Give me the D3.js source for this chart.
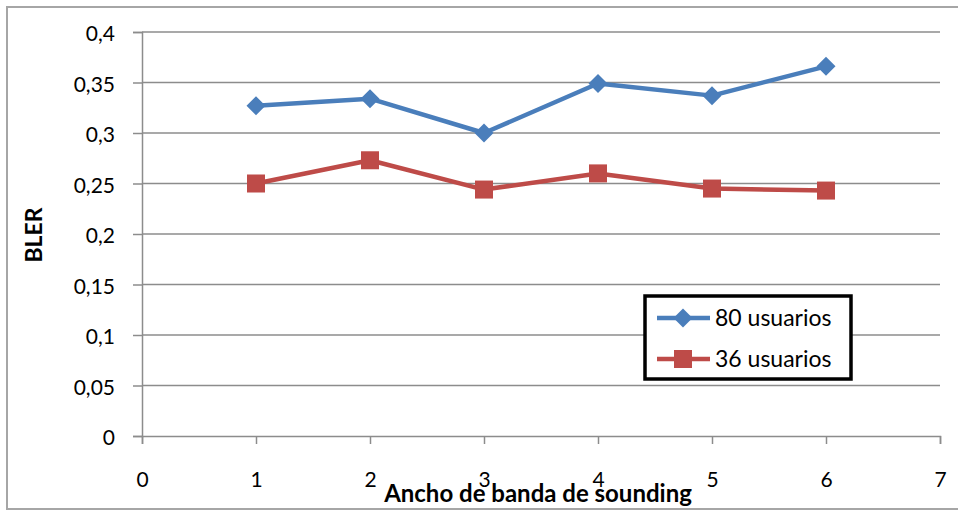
<!DOCTYPE html>
<html><head><meta charset="utf-8">
<script src="https://cdn.jsdelivr.net/npm/d3@7"></script>
<style>body{margin:0;background:#fff}svg{display:block}</style>
</head><body>
<script>
const xValues = [1, 2, 3, 4, 5, 6];
const series80 = [0.327, 0.334, 0.300, 0.349, 0.337, 0.366];
const series36 = [0.250, 0.273, 0.244, 0.260, 0.245, 0.243];
const seriesNames = ["80 usuarios", "36 usuarios"];
const xTicks = [0, 1, 2, 3, 4, 5, 6, 7];
const yTicks = [0, 0.05, 0.1, 0.15, 0.2, 0.25, 0.3, 0.35, 0.4];

const W = 958, H = 511;
const font = "Lato, 'Open Sans', sans-serif";
const svg = d3.select("body").append("svg").attr("width", W).attr("height", H);

svg.append("rect").attr("x", 7).attr("y", 7).attr("width", 980).attr("height", 502)
  .attr("fill", "none").attr("stroke", "#a6a6a6").attr("stroke-width", 2);

const x = d3.scaleLinear().domain([0, 7]).range([142, 940]);
const y = d3.scaleLinear().domain([0, 0.4]).range([436, 32]);
const fmt = d => d3.format("")(d).replace(".", ",");

// gridlines
svg.append("g").selectAll("line").data(yTicks.filter(d => d > 0)).join("line")
  .attr("x1", x(0)).attr("x2", x(7)).attr("y1", d => y(d)).attr("y2", d => y(d))
  .attr("stroke", "#8c8c8c").attr("stroke-width", 1.5);

// y axis
const yAx = svg.append("g").attr("transform", `translate(${x(0)},0)`)
  .call(d3.axisLeft(y).tickValues(yTicks).tickFormat(fmt).tickSize(9).tickPadding(18));
// x axis
const xAx = svg.append("g").attr("transform", `translate(0,${y(0)})`)
  .call(d3.axisBottom(x).tickValues(xTicks).tickFormat(d3.format("d")).tickSize(8));
[yAx, xAx].forEach(a => {
  a.select(".domain").attr("stroke", "#8c8c8c").attr("stroke-width", 1.5);
  a.selectAll(".tick line").attr("stroke", "#8c8c8c").attr("stroke-width", 1.5);
  a.selectAll("text").attr("fill", "#000").style("font-family", font).style("font-size", "21px");
});
xAx.selectAll("text").attr("y", 51).attr("dy", 0);
yAx.selectAll("text").attr("x", -27).attr("dy", "0.42em");

const line = d3.line().x((d, i) => x(xValues[i])).y(d => y(d));
const blue = "#4a7ebb", red = "#be4b48";

svg.append("path").datum(series80).attr("d", line).attr("fill", "none")
  .attr("stroke", blue).attr("stroke-width", 4.5).attr("stroke-linejoin", "round");
svg.append("path").datum(series36).attr("d", line).attr("fill", "none")
  .attr("stroke", red).attr("stroke-width", 4.5).attr("stroke-linejoin", "round");

const diamond = (cx, cy, r) => `M${cx},${cy - r}L${cx + r},${cy}L${cx},${cy + r}L${cx - r},${cy}Z`;
svg.append("g").selectAll("path").data(series80).join("path")
  .attr("d", (d, i) => diamond(x(xValues[i]), y(d), 9.5)).attr("fill", blue);
svg.append("g").selectAll("rect").data(series36).join("rect")
  .attr("x", (d, i) => x(xValues[i]) - 9).attr("y", d => y(d) - 9)
  .attr("width", 18).attr("height", 18).attr("fill", red);

// axis titles
svg.append("text").attr("x", 538).attr("y", 502).attr("text-anchor", "middle")
  .style("font-family", font).style("font-weight", "bold").style("font-size", "24px")
  .text("Ancho de banda de sounding");
svg.append("text").attr("transform", "translate(42,235) rotate(-90)").attr("text-anchor", "middle")
  .style("font-family", font).style("font-weight", "bold").style("font-size", "23px")
  .text("BLER");

// legend
const lg = svg.append("g");
lg.append("rect").attr("x", 645).attr("y", 296).attr("width", 206).attr("height", 83)
  .attr("fill", "#fff").attr("stroke", "#000").attr("stroke-width", 3.5);
const rows = [{ name: seriesNames[0], c: blue, yy: 318, m: "d" }, { name: seriesNames[1], c: red, yy: 359, m: "s" }];
rows.forEach(r => {
  lg.append("line").attr("x1", 657).attr("x2", 710).attr("y1", r.yy).attr("y2", r.yy)
    .attr("stroke", r.c).attr("stroke-width", 4.5);
  if (r.m === "d") lg.append("path").attr("d", diamond(683, r.yy, 9.5)).attr("fill", r.c);
  else lg.append("rect").attr("x", 674).attr("y", r.yy - 9).attr("width", 18).attr("height", 18).attr("fill", r.c);
  lg.append("text").attr("x", 715).attr("y", r.yy).attr("dy", "0.36em")
    .style("font-family", font).style("font-size", "23px").text(r.name);
});
</script>
</body></html>
